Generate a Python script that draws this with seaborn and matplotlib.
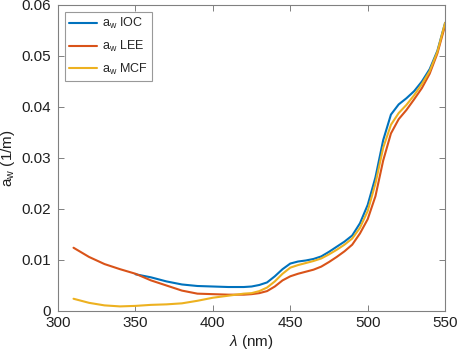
import numpy as np
import pandas as pd
import matplotlib
matplotlib.use("Agg")
import matplotlib.pyplot as plt
import seaborn as sns

# =====================
# data
# =====================
wl_ioc = [350, 360, 370, 380, 390, 400, 410, 420, 425, 430, 435, 440, 445, 450,
          455, 460, 465, 470, 475, 480, 485, 490, 495, 500, 505, 510, 515, 520,
          525, 530, 535, 540, 545, 550]
aw_ioc = [0.0072, 0.0066, 0.0058, 0.0052, 0.0049, 0.0048, 0.0047, 0.0047, 0.0048,
          0.0051, 0.0056, 0.0068, 0.0082, 0.0093, 0.0097, 0.0099, 0.0102, 0.0107,
          0.0116, 0.0126, 0.0136, 0.0148, 0.0172, 0.0208, 0.0262, 0.0335, 0.0385,
          0.0405, 0.0417, 0.0431, 0.0450, 0.0474, 0.0510, 0.0565]

wl_full = [310, 320, 330, 340, 350, 360, 370, 380, 390, 400, 410, 420, 425, 430,
           435, 440, 445, 450, 455, 460, 465, 470, 475, 480, 485, 490, 495, 500,
           505, 510, 515, 520, 525, 530, 535, 540, 545, 550]
aw_lee = [0.0124, 0.0106, 0.0092, 0.0082, 0.0073, 0.0060, 0.0050, 0.0040, 0.0034,
          0.0033, 0.0032, 0.0032, 0.0033, 0.0035, 0.0039, 0.0048, 0.0060, 0.0068,
          0.0073, 0.0077, 0.0081, 0.0087, 0.0096, 0.0106, 0.0117, 0.0130, 0.0152,
          0.0180, 0.0225, 0.0295, 0.0348, 0.0376, 0.0394, 0.0415, 0.0437, 0.0465,
          0.0505, 0.0560]
aw_mcf = [0.0024, 0.0016, 0.0011, 0.0009, 0.0010, 0.0012, 0.0013, 0.0015, 0.0020,
          0.0026, 0.0030, 0.0034, 0.0035, 0.0039, 0.0046, 0.0058, 0.0073, 0.0085,
          0.0090, 0.0094, 0.0098, 0.0103, 0.0111, 0.0120, 0.0130, 0.0142, 0.0163,
          0.0196, 0.0250, 0.0320, 0.0365, 0.0388, 0.0404, 0.0423, 0.0445, 0.0470,
          0.0508, 0.0565]

labels = [r"a$_\mathrm{w}$ IOC", r"a$_\mathrm{w}$ LEE", r"a$_\mathrm{w}$ MCF"]
colors = ["#0072BD", "#D95319", "#EDB120"]

df = pd.concat([
    pd.DataFrame({"wl": wl_ioc, "aw": aw_ioc, "src": labels[0]}),
    pd.DataFrame({"wl": wl_full, "aw": aw_lee, "src": labels[1]}),
    pd.DataFrame({"wl": wl_full, "aw": aw_mcf, "src": labels[2]}),
], ignore_index=True)

# =====================
# plot
# =====================
sns.set_style("white")
plt.rcParams["font.family"] = ["Liberation Sans", "DejaVu Sans"]
plt.rcParams["mathtext.fontset"] = "custom"
plt.rcParams["mathtext.rm"] = "Liberation Sans"
plt.rcParams["mathtext.it"] = "Liberation Sans:italic"

fig = plt.figure(figsize=(4.57, 3.52), dpi=100)
ax = fig.add_axes([0.127, 0.1165, 0.847, 0.8695])

sns.lineplot(data=df, x="wl", y="aw", hue="src", hue_order=labels,
             palette=dict(zip(labels, colors)), linewidth=1.5, ax=ax,
             estimator=None, sort=False)

ax.set_xlim(300, 550)
ax.set_ylim(0, 0.06)
ax.set_xticks([300, 350, 400, 450, 500, 550])
ax.set_yticks([0, 0.01, 0.02, 0.03, 0.04, 0.05, 0.06])
ax.set_yticklabels(["0", "0.01", "0.02", "0.03", "0.04", "0.05", "0.06"])
ax.tick_params(direction="in", length=4, width=0.7, color="#808080",
               labelsize=11, labelcolor="#202020",
               top=True, right=True, bottom=True, left=True)
ax.tick_params(axis="y", pad=5)
for s in ax.spines.values():
    s.set_color("#808080")
    s.set_linewidth(0.8)

ax.set_xlabel(r"$\lambda$ (nm)", fontsize=11, color="#202020", labelpad=2)
ax.set_ylabel(r"a$_\mathrm{w}$ (1/m)", fontsize=11, color="#202020", labelpad=3)

leg = ax.legend(loc="upper left", fontsize=9, frameon=True, fancybox=False,
                edgecolor="#808080", handlelength=2.2, borderpad=0.35,
                labelspacing=0.6, handletextpad=0.4, borderaxespad=0,
                bbox_to_anchor=(0.018, 0.977))
leg.get_frame().set_linewidth(0.8)

fig.savefig("out.png", dpi=100)
